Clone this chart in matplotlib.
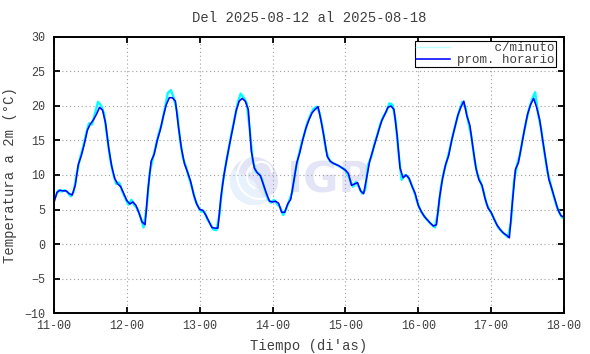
import numpy as np
import matplotlib
matplotlib.use('Agg')
import matplotlib.pyplot as plt
from matplotlib import patches

# hourly means (prom. horario), hours since 2025-08-11 00:00
hourly_temp = [
    6.0, 7.5, 7.8, 7.7, 7.7, 7.3, 7.1, 8.5, 11.5, 12.8, 14.5, 16.5,
    17.4, 18.0, 18.8, 19.8, 19.4, 17.5, 14.0, 11.3, 9.5, 8.7, 8.3, 7.3,
    6.3, 5.8, 6.1, 5.6, 4.5, 3.2, 2.8, 8.0, 12.0, 13.0, 15.0, 16.5,
    18.5, 20.2, 21.2, 21.2, 20.7, 17.0, 13.8, 11.6, 10.4, 9.1, 7.2, 5.8,
    5.0, 4.9, 4.2, 3.3, 2.4, 2.3, 2.3, 6.8, 10.0, 12.5, 14.8, 17.0,
    19.3, 20.7, 21.1, 20.7, 19.5, 13.5, 11.0, 10.3, 9.9, 8.6, 7.3, 6.2,
    6.1, 6.2, 5.9, 4.6, 4.6, 5.8, 6.5, 9.1, 11.8, 13.3, 15.2, 16.8,
    18.0, 19.0, 19.5, 19.9, 17.8, 15.4, 12.7, 12.0, 11.7, 11.5, 11.3, 11.0,
    10.7, 10.2, 8.5, 8.7, 8.9, 7.7, 7.3, 9.6, 12.0, 13.5, 15.0, 16.5,
    17.9, 18.8, 19.8, 20.0, 19.5, 15.9, 11.0, 9.6, 10.0, 9.5, 8.3, 7.3,
    5.6, 4.7, 4.0, 3.5, 3.0, 2.6, 2.8, 6.7, 9.5, 11.5, 12.8, 15.0,
    16.8, 18.6, 19.8, 20.7, 18.6, 17.2, 14.0, 11.0, 9.3, 8.5, 6.6, 5.2,
    4.6, 3.6, 2.7, 2.1, 1.6, 1.3, 0.9, 6.0, 10.8, 11.8, 14.2, 16.6,
    18.8, 20.2, 21.1, 19.8, 18.0, 15.0, 12.2, 9.4, 8.0, 6.5, 5.0, 4.1,
    3.9,
]
hourly_t = np.arange(len(hourly_temp))

# per-minute readings, sampled at the half hours
minute_temp = [
    6.9, 7.8, 7.6, 7.8, 7.5, 6.9, 7.6, 10.2, 12.3, 13.9, 15.8, 17.5,
    17.3, 18.9, 20.6, 20.1, 18.9, 15.6, 12.3, 10.2, 8.7, 8.9, 7.6, 6.6,
    5.7, 6.4, 5.6, 5.1, 3.9, 2.4, 5.2, 10.3, 12.3, 14.1, 16.0, 17.4,
    19.6, 21.9, 22.3, 21.1, 19.3, 15.2, 12.4, 11.2, 9.6, 8.1, 6.4, 5.4,
    4.7, 4.7, 3.6, 2.9, 2.1, 2.0, 4.2, 8.6, 11.3, 13.7, 16.1, 18.2,
    20.4, 21.8, 21.2, 20.4, 16.5, 12.0, 10.5, 10.2, 9.4, 7.8, 6.5, 6.0,
    6.4, 5.8, 5.3, 4.2, 5.1, 6.3, 7.6, 10.6, 12.6, 14.5, 16.0, 17.6,
    18.7, 19.6, 19.9, 19.0, 16.8, 13.8, 12.3, 11.8, 11.6, 11.4, 11.1, 10.9,
    10.4, 9.3, 8.3, 9.0, 8.2, 7.3, 7.8, 11.5, 12.6, 14.4, 15.8, 17.4,
    18.5, 19.2, 20.4, 20.2, 18.0, 13.2, 9.3, 10.0, 9.8, 8.9, 7.8, 6.3,
    5.1, 4.3, 3.7, 3.2, 2.8, 2.4, 4.6, 8.4, 10.6, 12.2, 14.0, 16.0,
    17.7, 19.3, 20.6, 19.9, 17.6, 15.6, 12.3, 10.0, 9.0, 7.6, 5.8, 4.9,
    4.1, 3.1, 2.3, 1.8, 1.4, 1.0, 3.0, 9.0, 11.4, 13.0, 15.5, 17.7,
    19.6, 21.0, 22.0, 18.8, 16.6, 13.4, 10.6, 8.8, 7.1, 5.6, 4.5, 3.8,
]
minute_t = np.arange(len(minute_temp)) + 0.5

day_labels = ['11-00', '12-00', '13-00', '14-00', '15-00', '16-00', '17-00', '18-00']
y_ticks = [-10, -5, 0, 5, 10, 15, 20, 25, 30]

mono = 'Liberation Mono'
txt_color = '#404040'

fig = plt.figure(figsize=(5.9, 3.54), dpi=100)
ax = fig.add_axes([0.0915, 0.1158, 0.8644, 0.7797])
ax.set_facecolor('none')
ax.set_zorder(1)

# watermark logo (behind the plot)
logo = fig.add_axes([0.3898, 0.4209, 0.0814, 0.1356])
logo.set_zorder(0)
logo.set_xlim(-1, 1)
logo.set_ylim(-1, 1)
logo.set_aspect('equal')
logo.axis('off')
logo.add_patch(patches.Circle((0, 0), 1, color='#e4e4f7', lw=0))
logo.add_patch(patches.Wedge((0, 0), 1, 150, 300, color='#e8f2fd', lw=0))
logo.add_patch(patches.Arc((0.25, 0.2), 1.9, 1.9, theta1=120, theta2=330, color='white', lw=1.5))
logo.add_patch(patches.Arc((0.25, 0.2), 1.1, 1.1, theta1=100, theta2=250, color='white', lw=1.5))
logo.add_patch(patches.Arc((0.35, -0.45), 3.2, 3.2, theta1=200, theta2=260, color='white', lw=1.5))
logo.add_patch(patches.Arc((0.3, 0.35), 0.9, 0.9, theta1=0, theta2=180, color='white', lw=1.5))
fig.text(0.486, 0.489, 'IGP', fontsize=31, fontweight='bold', color='#e4e4f7',
         family='DejaVu Sans', ha='left', va='center', zorder=-1)

ax.plot(minute_t, minute_temp, color='#00ffff', lw=1.7, label='c/minuto')
ax.plot(hourly_t, hourly_temp, color='#0000ff', lw=1.15, label='prom. horario')

ax.set_xlim(0, 168)
ax.set_ylim(-10, 30)
ax.set_xticks(np.arange(0, 169, 24))
ax.set_xticklabels(day_labels)
ax.set_yticks(y_ticks)
ax.grid(True, color='#a0a0a0', lw=0.8, linestyle=(0, (1, 2.5)))

for s in ax.spines.values():
    s.set_linewidth(1.4)
ax.tick_params(direction='in', length=4, width=1.3, top=True, right=True,
               labelsize=8.5, labelcolor=txt_color)
ax.tick_params(axis='x', pad=5)
ax.tick_params(axis='y', pad=6.5)
for lab in ax.get_xticklabels() + ax.get_yticklabels():
    lab.set_family(mono)

ax.set_title('Del 2025-08-12 al 2025-08-18', family=mono, fontsize=10,
             color=txt_color, pad=11)
ax.set_xlabel('Tiempo (di\'as)', family=mono, fontsize=10, color=txt_color)
ax.xaxis.set_label_coords(0.5, -0.095)
ax.set_ylabel('Temperatura a 2m (°C)', family=mono, fontsize=10, color=txt_color)
ax.yaxis.set_label_coords(-0.072, 0.5)

leg = ax.legend(loc='upper right', bbox_to_anchor=(0.984, 0.9855), borderaxespad=0,
                frameon=True, fancybox=False, framealpha=1,
                edgecolor='black', handlelength=2.7, handletextpad=0.6,
                borderpad=0.1, labelspacing=0.0,
                prop={'family': mono, 'size': 9})
leg.get_frame().set_linewidth(0.8)
for t in leg.get_texts():
    t.set_color(txt_color)
leg.get_lines()[0].set_color('#c0ffff')
leg.get_lines()[0].set_linewidth(1.0)

# right-align labels (monospace)
leg.get_texts()[0].set_text('     c/minuto')

fig.savefig('out.png', dpi=100)
